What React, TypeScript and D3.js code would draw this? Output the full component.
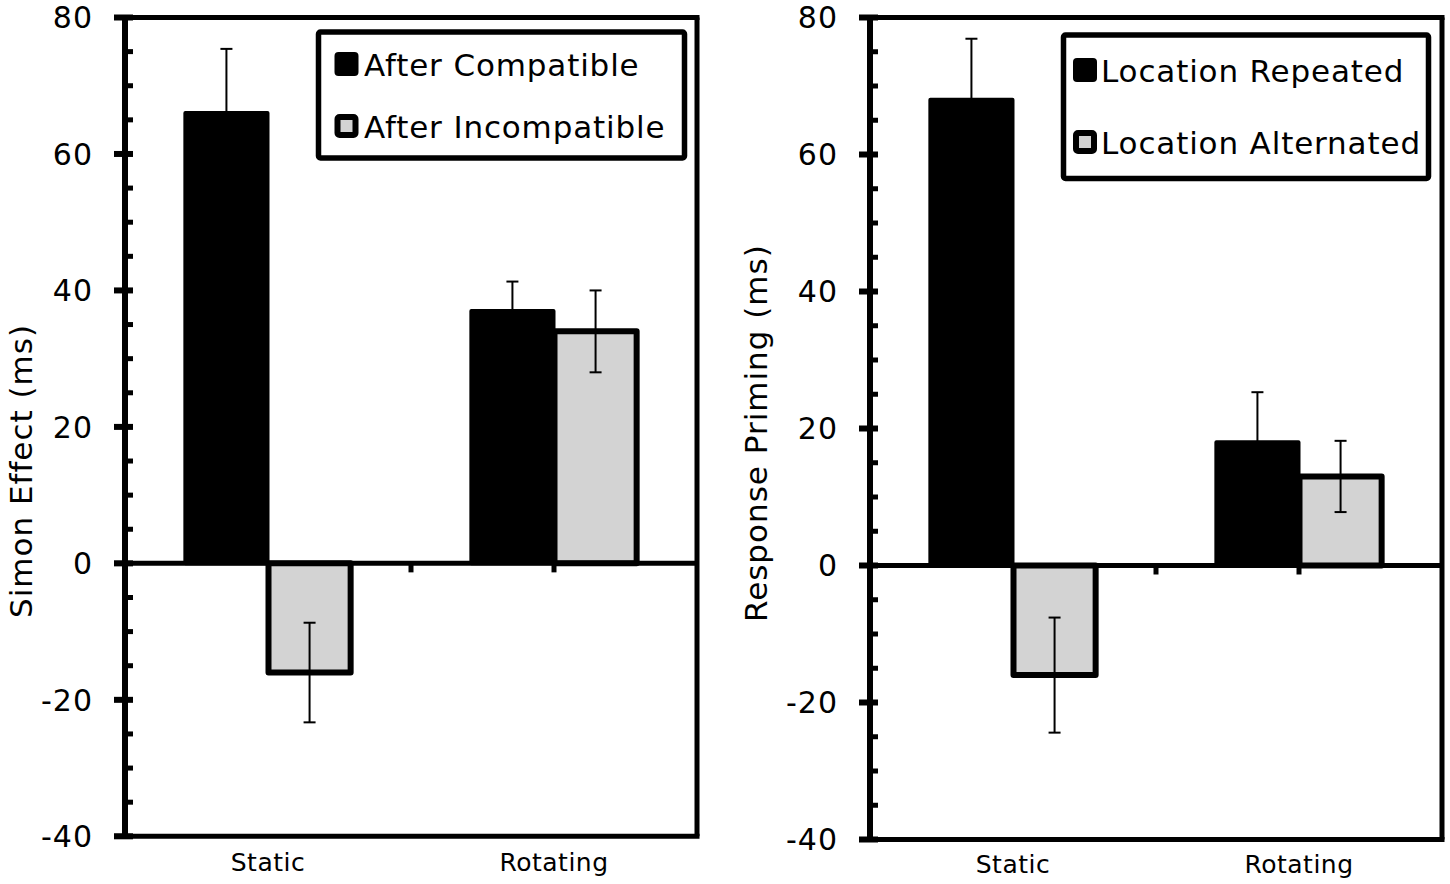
import React from "react";
import * as d3 from "d3";

// --- Data ---
const categories = ["Static", "Rotating"];

const leftSeries = ["After Compatible", "After Incompatible"];
const afterCompatible = [66, 37];
const afterCompatibleErr = [9.4, 4.3];
const afterIncompatible = [-16, 34];
const afterIncompatibleErr = [7.3, 6];

const rightSeries = ["Location Repeated", "Location Alternated"];
const locationRepeated = [68, 18];
const locationRepeatedErr = [8.9, 7.3];
const locationAlternated = [-16, 13];
const locationAlternatedErr = [8.4, 5.2];

const yTicks = [-40, -20, 0, 20, 40, 60, 80];
const yDomain = [-40, 80];

const FONT = "DejaVu Sans, Verdana, sans-serif";
const GRAY = "#d3d3d3";

interface Layout {
  x0: number;
  x1: number;
  yTop: number;
  yBottom: number;
  titleX: number;
  titleY: number;
  catLabelY: number;
  legend: { x: number; y: number; w: number; h: number; markerX: number; textX: number; rowY: number[] };
}

interface PanelProps {
  layout: Layout;
  title: string;
  seriesNames: string[];
  values: number[][];
  errors: number[][];
}

const Panel: React.FC<PanelProps> = ({ layout, title, seriesNames, values, errors }) => {
  const { x0, x1, yTop, yBottom } = layout;

  const y = d3.scaleLinear().domain(yDomain).range([yBottom, yTop]);
  const xCat = d3.scaleBand().domain(categories).range([x0, x1]).padding(0);
  const xSer = d3
    .scaleBand()
    .domain(seriesNames)
    .range([0, xCat.bandwidth()])
    .paddingInner(0)
    .paddingOuter(0.72);

  const minor = d3.range(yDomain[0], yDomain[1] + 1, 5).filter((v) => v % 20 !== 0);
  const fills = ["#000", GRAY];
  const strokes = [4, 6];
  const barW = xSer.bandwidth() - 1;

  // little ticks below the zero line: between categories and at group centers
  const catTicks = [
    (xCat(categories[0])! + xCat.bandwidth() + xCat(categories[1])!) / 2,
    xCat(categories[1])! + xCat.bandwidth() / 2,
  ];

  return (
    <g>
      {/* frame */}
      <line x1={x0 - 11} x2={x1 + 2.5} y1={y(80)} y2={y(80)} stroke="#000" strokeWidth={5} />
      <line x1={x0 - 11} x2={x1 + 2.5} y1={y(-40)} y2={y(-40)} stroke="#000" strokeWidth={5} />
      <line x1={x1} x2={x1} y1={y(80)} y2={y(-40)} stroke="#000" strokeWidth={5} />

      {/* bars */}
      {seriesNames.map((s, si) =>
        categories.map((c, ci) => {
          const v = values[si][ci];
          const bx = xCat(c)! + xSer(s)! + (xSer.bandwidth() - barW) / 2;
          return (
            <rect
              key={s + c}
              x={bx}
              width={barW}
              y={Math.min(y(v), y(0))}
              height={Math.abs(y(v) - y(0))}
              fill={fills[si]}
              stroke="#000"
              strokeWidth={strokes[si]}
              strokeLinejoin="round"
            />
          );
        })
      )}

      {/* error bars */}
      {seriesNames.map((s, si) =>
        categories.map((c, ci) => {
          const v = values[si][ci];
          const e = errors[si][ci];
          const cx = xCat(c)! + xSer(s)! + xSer.bandwidth() / 2;
          return (
            <g key={"e" + s + c} stroke="#000" strokeWidth={2}>
              <line x1={cx} x2={cx} y1={y(v + e)} y2={y(v - e)} />
              <line x1={cx - 6} x2={cx + 6} y1={y(v + e)} y2={y(v + e)} />
              <line x1={cx - 6} x2={cx + 6} y1={y(v - e)} y2={y(v - e)} />
            </g>
          );
        })
      )}

      {/* zero line + category ticks */}
      <line x1={x0 - 11} x2={x1} y1={y(0)} y2={y(0)} stroke="#000" strokeWidth={5} />
      {catTicks.map((tx, i) => (
        <line key={"ct" + i} x1={tx} x2={tx} y1={y(0)} y2={y(0) + 9} stroke="#000" strokeWidth={5} />
      ))}

      {/* y axis */}
      <line x1={x0} x2={x0} y1={y(80) - 2.5} y2={y(-40) + 2.5} stroke="#000" strokeWidth={6} />
      {minor.map((v) => (
        <line key={"m" + v} x1={x0} x2={x0 + 8} y1={y(v)} y2={y(v)} stroke="#000" strokeWidth={5} />
      ))}
      {yTicks.map((v) => (
        <g key={"t" + v}>
          <line x1={x0 - 11} x2={x0 + 8} y1={y(v)} y2={y(v)} stroke="#000" strokeWidth={6} />
          <text
            x={x0 - 32}
            y={y(v)}
            dy="0.36em"
            textAnchor="end"
            fontFamily={FONT}
            fontSize={30}
            letterSpacing={1}
          >
            {v}
          </text>
        </g>
      ))}

      {/* category labels */}
      {categories.map((c) => (
        <text
          key={"c" + c}
          x={xCat(c)! + xCat.bandwidth() / 2}
          y={layout.catLabelY}
          textAnchor="middle"
          fontFamily={FONT}
          fontSize={25}
          letterSpacing={0.5}
        >
          {c}
        </text>
      ))}

      {/* axis title */}
      <text
        transform={`translate(${layout.titleX},${layout.titleY}) rotate(-90)`}
        textAnchor="start"
        fontFamily={FONT}
        fontSize={31}
        letterSpacing={1}
      >
        {title}
      </text>

      {/* legend */}
      <rect
        x={layout.legend.x}
        y={layout.legend.y}
        width={layout.legend.w}
        height={layout.legend.h}
        fill="#fff"
        stroke="#000"
        strokeWidth={5.5}
        rx={2}
      />
      {seriesNames.map((s, si) => {
        const by = layout.legend.rowY[si];
        const mx = layout.legend.markerX;
        return (
          <g key={"l" + s}>
            {si === 0 ? (
              <rect x={mx} y={by - 24} width={24} height={24} rx={4} fill="#000" />
            ) : (
              <rect
                x={mx + 3}
                y={by - 21}
                width={18}
                height={18}
                rx={2}
                fill={GRAY}
                stroke="#000"
                strokeWidth={6}
              />
            )}
            <text x={layout.legend.textX} y={by} fontFamily={FONT} fontSize={31} letterSpacing={0.85}>
              {s}
            </text>
          </g>
        );
      })}
    </g>
  );
};

const leftLayout: Layout = {
  x0: 125,
  x1: 697,
  yTop: 17.5,
  yBottom: 836.3,
  titleX: 32,
  titleY: 618,
  catLabelY: 871,
  legend: { x: 318.5, y: 32, w: 366, h: 126, markerX: 334.5, textX: 364, rowY: [76, 138] },
};

const rightLayout: Layout = {
  x0: 870,
  x1: 1442,
  yTop: 17.5,
  yBottom: 839.5,
  titleX: 767,
  titleY: 622,
  catLabelY: 873,
  legend: { x: 1063.5, y: 35, w: 365, h: 143.5, markerX: 1073, textX: 1101, rowY: [82, 154] },
};

const App: React.FC = () => (
  <div style={{ position: "absolute", left: 0, top: 0, background: "#fff" }}>
    <svg width={1450} height={884} style={{ display: "block" }}>
      <rect width={1450} height={884} fill="#fff" />
      <Panel
        layout={leftLayout}
        title="Simon Effect (ms)"
        seriesNames={leftSeries}
        values={[afterCompatible, afterIncompatible]}
        errors={[afterCompatibleErr, afterIncompatibleErr]}
      />
      <Panel
        layout={rightLayout}
        title="Response Priming (ms)"
        seriesNames={rightSeries}
        values={[locationRepeated, locationAlternated]}
        errors={[locationRepeatedErr, locationAlternatedErr]}
      />
    </svg>
  </div>
);

export default App;
